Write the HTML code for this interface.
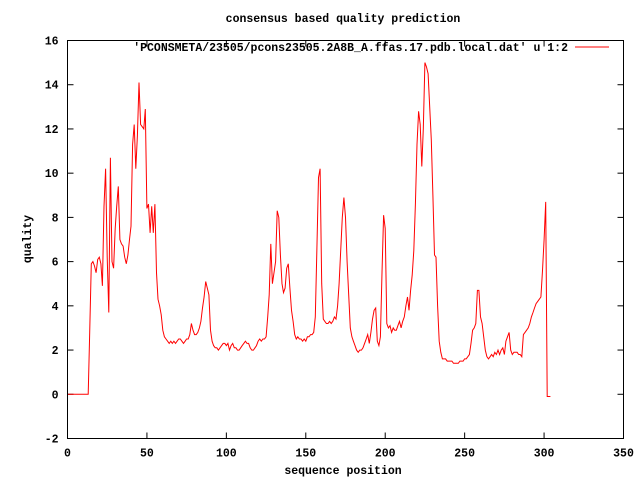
<!DOCTYPE html>
<html><head><meta charset="utf-8"><style>
body{margin:0;background:#fff}
svg text{font-family:"Liberation Mono",monospace;font-size:11.5px;font-weight:bold;fill:#000}
</style></head><body>
<svg id="chart" width="640" height="480" xmlns="http://www.w3.org/2000/svg">
<rect width="640" height="480" fill="#fff"/>
<text x="343" y="22" text-anchor="middle">consensus based quality prediction</text>
<text x="343" y="474" text-anchor="middle">sequence position</text>
<text x="31" y="239" text-anchor="middle" transform="rotate(-90 31 239)">quality</text>
<g id="axes"></g>
<g>
<text x="568" y="51" text-anchor="end">'PCONSMETA/23505/pcons23505.2A8B_A.ffas.17.pdb.local.dat' u 1:2</text>
<line x1="575" y1="47" x2="609" y2="47" stroke="#f00" stroke-width="1"/>
</g>
<polyline id="series" fill="none" stroke="#f00" stroke-width="1"/>
<rect x="67.5" y="40.5" width="556" height="398" fill="none" stroke="#000" stroke-width="1"/>
</svg>
<script>
const xTicks=[0,50,100,150,200,250,300,350];
const yTicks=[-2,0,2,4,6,8,10,12,14,16];
const qualityValues=[0,0,0,0,0,0,0,0,0,0,0,0,0,0,2.8,5.9,6.0,5.8,5.5,6.1,6.2,5.9,4.9,8.5,10.2,6.2,3.7,10.7,6.0,5.7,7.5,8.5,9.4,7.0,6.8,6.7,6.2,5.9,6.3,7.0,7.6,11.3,12.2,10.2,11.7,14.1,12.2,12.1,12.0,12.9,8.4,8.6,7.3,8.5,7.3,8.6,5.5,4.3,4.0,3.6,2.9,2.6,2.5,2.4,2.3,2.4,2.3,2.4,2.3,2.4,2.5,2.5,2.4,2.3,2.4,2.5,2.5,2.7,3.2,2.9,2.7,2.7,2.8,3.0,3.3,3.9,4.4,5.1,4.8,4.5,2.9,2.4,2.2,2.1,2.1,2.0,2.1,2.2,2.3,2.3,2.2,2.3,2.0,2.2,2.3,2.1,2.1,2.0,2.0,2.1,2.2,2.3,2.4,2.3,2.3,2.1,2.0,2.0,2.1,2.2,2.4,2.5,2.4,2.5,2.5,2.6,3.5,4.5,6.8,5.0,5.5,6.0,8.3,8.0,6.3,5.0,4.6,4.8,5.7,5.9,4.8,3.8,3.3,2.7,2.5,2.6,2.5,2.5,2.4,2.5,2.4,2.6,2.6,2.7,2.7,2.8,3.5,6.6,9.8,10.2,5.0,3.4,3.3,3.2,3.2,3.3,3.2,3.3,3.5,3.4,4.0,5.0,6.5,8.0,8.9,8.0,6.0,4.5,3.0,2.6,2.4,2.2,2.0,1.9,2.0,2.0,2.1,2.3,2.5,2.7,2.3,2.8,3.4,3.8,3.9,2.4,2.2,2.6,5.5,8.1,7.5,3.2,3.0,3.1,2.8,3.0,2.9,2.9,3.1,3.3,3.0,3.3,3.5,4.0,4.4,3.8,4.7,5.4,6.5,8.6,11.3,12.8,12.2,10.3,12.0,15.0,14.8,14.5,13.0,11.5,9.0,6.3,6.2,4.0,2.4,1.9,1.6,1.6,1.6,1.5,1.5,1.5,1.5,1.4,1.4,1.4,1.4,1.5,1.5,1.5,1.6,1.6,1.7,1.8,2.3,2.9,3.0,3.2,4.7,4.7,3.5,3.2,2.6,2.0,1.7,1.6,1.7,1.8,1.7,1.9,1.8,2.0,1.8,2.0,2.1,1.8,2.4,2.6,2.8,2.0,1.8,1.9,1.9,1.9,1.8,1.8,1.7,2.7,2.8,2.9,3.0,3.2,3.5,3.7,3.9,4.1,4.2,4.3,4.4,5.6,7.0,8.7,-0.1,-0.1,-0.1];
const X0=67.5,X1=623.5,Y0=438.5,Y1=40.5;
function sx(v){return X0+(v-0)/(350-0)*(X1-X0);}
function sy(v){return Y0-(v-(-2))/(16-(-2))*(Y0-Y1);}
const NS="http://www.w3.org/2000/svg";
const ax=document.getElementById('axes');
function mk(tag,attrs){const e=document.createElementNS(NS,tag);for(const k in attrs)e.setAttribute(k,attrs[k]);return e;}
xTicks.forEach(t=>{
  const x=sx(t);
  const a=mk('line',{x1:x,y1:Y0,x2:x,y2:Y0-6,stroke:'#000'});
  
  
  ax.appendChild(a);
  const b=mk('line',{x1:x,y1:Y1,x2:x,y2:Y1+6,stroke:'#000'});
  
  
  ax.appendChild(b);
  const l=mk('text',{x:x,y:Y0+18,'text-anchor':'middle'});
  l.textContent=t;
  
  
  ax.appendChild(l);
});
yTicks.forEach(t=>{
  const y=sy(t);
  const a=mk('line',{x1:X0,y1:y,x2:X0+6,y2:y,stroke:'#000'});
  
  
  ax.appendChild(a);
  const b=mk('line',{x1:X1,y1:y,x2:X1-6,y2:y,stroke:'#000'});
  
  
  ax.appendChild(b);
  const l=mk('text',{x:X0-9,y:y+4,'text-anchor':'end'});
  l.textContent=t;
  
  
  ax.appendChild(l);
});
document.getElementById('series').setAttribute('points',qualityValues.map((v,i)=>sx(i).toFixed(1)+','+sy(v).toFixed(1)).join(' '));
</script>
</body></html>
